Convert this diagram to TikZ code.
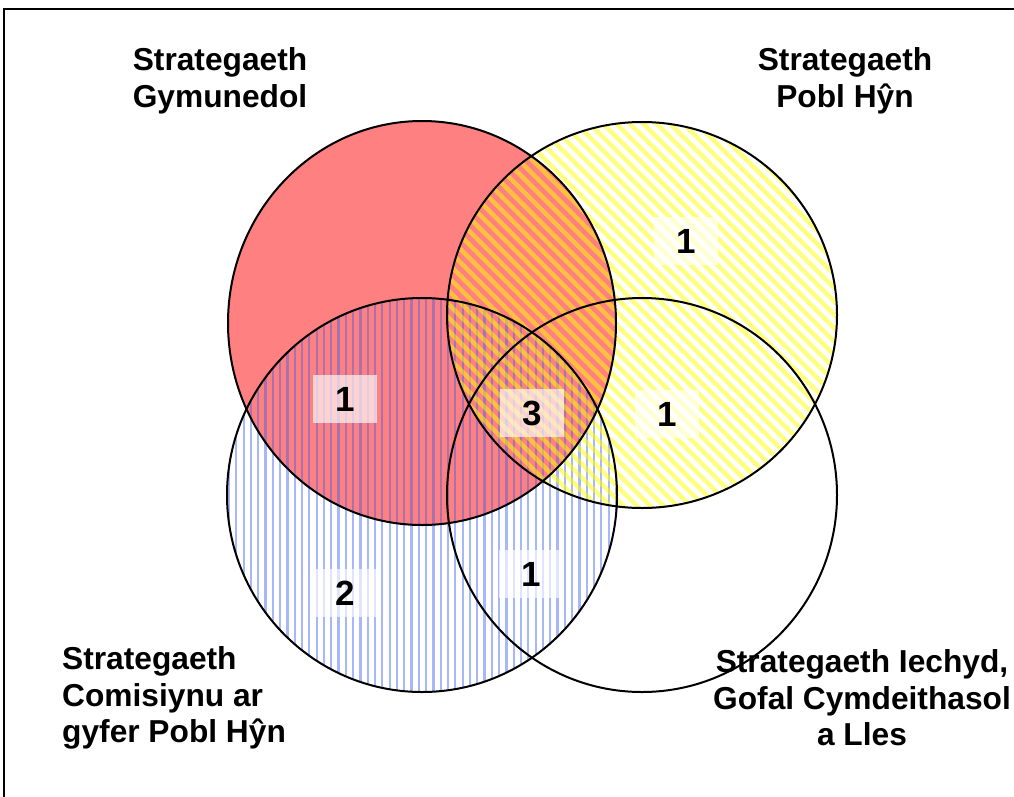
\documentclass[tikz,border=0pt]{standalone}
\usepackage{fontspec}
\setmainfont{Liberation Sans}

\definecolor{vennred}{RGB}{255,128,128}
\definecolor{vennblue}{RGB}{60,95,240}
\definecolor{vennyellow}{RGB}{255,255,0}

\begin{document}
\begin{tikzpicture}[x=1pt, y=-1pt,
    title/.style={font=\fontsize{31.7}{36.5}\selectfont\bfseries, align=center, inner sep=0pt},
    count/.style={fill=white, fill opacity=0.65, text opacity=1, inner sep=0pt,
      minimum width=64pt, minimum height=48pt, font=\fontsize{35}{40}\selectfont\bfseries},
    ring/.style={draw=black, line width=2pt},
    bluestripe/.style={draw=vennblue, opacity=0.45, line width=2.2pt},
    yellowstripe/.style={draw=vennyellow, opacity=0.5, line width=4.5pt}]
    \useasboundingbox (0,0) rectangle (1014,796);
    \draw[line width=1.5pt] (4,9) rectangle (1040,820);

    \coordinate (gym) at (422,323);
    \coordinate (pobl) at (642,315);
    \coordinate (comis) at (422,495);
    \coordinate (iech) at (642,495);

    % fills
    \fill[vennred] (gym) ellipse [x radius=194, y radius=202];
    \begin{scope}
      \clip (comis) ellipse [x radius=195, y radius=197];
      \foreach \x in {229,236.3,...,620}
        \draw[bluestripe] (\x,290) -- (\x,700);
    \end{scope}
    \begin{scope}
      \clip (pobl) ellipse [x radius=195, y radius=193];
      \foreach \x in {40,53.4,...,850}
        \draw[yellowstripe] (\x,110) -- (\x+410,520);
    \end{scope}

    % outlines
    \draw[ring] (gym) ellipse [x radius=194, y radius=202];
    \draw[ring] (pobl) ellipse [x radius=195, y radius=193];
    \draw[ring] (comis) ellipse [x radius=195, y radius=197];
    \draw[ring] (iech) ellipse [x radius=195, y radius=197];

    % counts
    \node[count] (n1) at (686,241) {1};
    \node[count] (n2) at (345,399) {1};
    \node[count] (n3) at (532,413) {3};
    \node[count] (n4) at (667,414) {1};
    \node[count] (n5) at (345,593) {2};
    \node[count] (n6) at (531,574) {1};

    % titles
    \node[title] (tgym) at (220,81) {Strategaeth\\Gymunedol};
    \node[title] (tpobl) at (845,81) {Strategaeth\\Pobl Hŷn};
    \node[title, align=left, anchor=west] (tcomis) at (62,698) {Strategaeth\\Comisiynu ar\\gyfer Pobl Hŷn};
    \node[title] (tiech) at (862,698) {Strategaeth Iechyd,\\Gofal Cymdeithasol\\a Lles};
\end{tikzpicture}
\end{document}
